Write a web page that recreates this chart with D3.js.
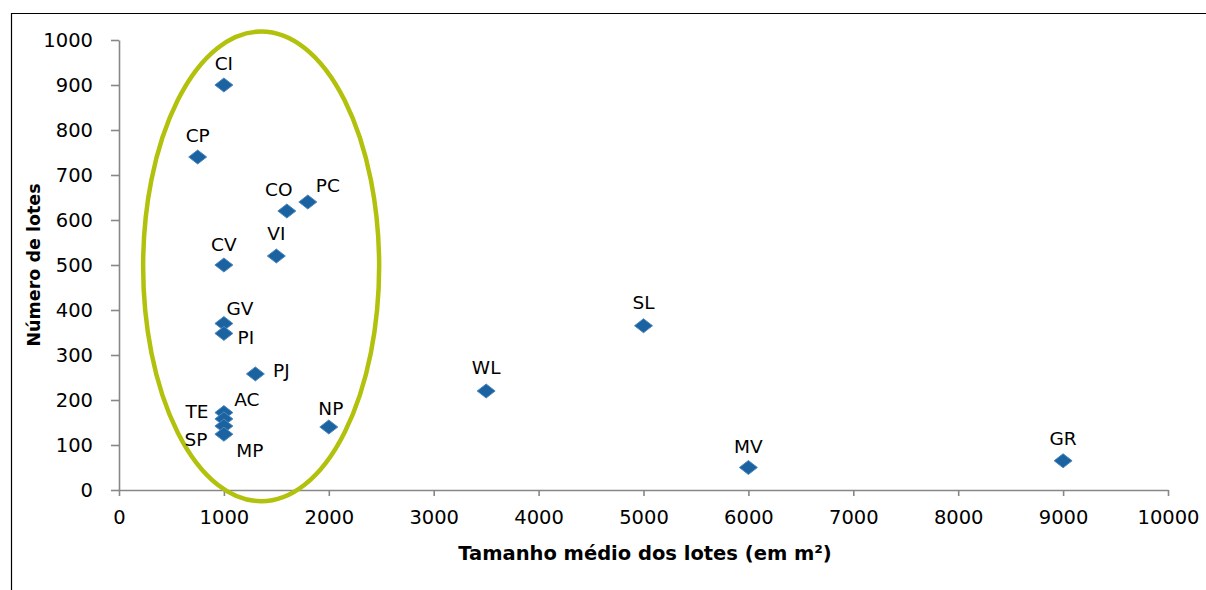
<!DOCTYPE html>
<html><head><meta charset="utf-8">
<script src="https://cdn.jsdelivr.net/npm/d3@7"></script>
<style>
html,body{margin:0;padding:0;background:#fff;}
svg{display:block;}
text{font-family:"DejaVu Sans",sans-serif;fill:#000;}
</style></head>
<body>
<svg id="chart" width="1206" height="590"></svg>
<script>
// Data
const names = ["CI","CP","CO","PC","CV","VI","GV","PI","PJ","AC","TE","SP","MP","NP","WL","SL","MV","GR"];
const sizes = [1000, 750, 1600, 1800, 1000, 1500, 1000, 1000, 1300, 1000, 1000, 1000, 1000, 2000, 3500, 5000, 6000, 9000];
const counts = [900, 740, 620, 640, 500, 520, 370, 348, 258, 172, 158, 142, 124, 140, 220, 365, 50, 65];
const xTicks = [0,1000,2000,3000,4000,5000,6000,7000,8000,9000,10000];
const yTicks = [0,100,200,300,400,500,600,700,800,900,1000];
const xTitle = "Tamanho médio dos lotes (em m²)";
const yTitle = "Número de lotes";
// highlighted cluster ellipse (data units): center and radii
const ellipseCenter = [1355, 497];
const ellipseRadii = [1125, 522];

// label placement (pixel offsets of text centre from marker: dx, dy)
const labelPos = {
  CI:[0,-22], CP:[0,-22], CO:[-8,-22], PC:[20,-17],
  CV:[0,-21], VI:[0,-23], GV:[16,-15], PI:[22,4],
  PJ:[26,-3], AC:[23,-13], TE:[-27,-7], SP:[-28,13],
  MP:[26,16], NP:[2,-19], WL:[0,-24], SL:[0,-23],
  MV:[0,-21], GR:[0,-22]
};

const svg = d3.select("#chart");
const m = {left:119, right:1168, top:40, bottom:490};
const x = d3.scaleLinear().domain([0,10000]).range([m.left, m.right]);
const y = d3.scaleLinear().domain([0,1000]).range([m.bottom, m.top]);

// frame
svg.append("path").attr("d","M11.5,590 L11.5,13.5 L1206,13.5").attr("fill","none").attr("stroke","#000").attr("stroke-width",1.2);

const axisColor = "#878787";
const xa = svg.append("g").attr("transform",`translate(0,${m.bottom})`)
  .call(d3.axisBottom(x).tickValues(xTicks).tickSize(6).tickSizeOuter(0).tickPadding(14).tickFormat(d3.format("d")));
const ya = svg.append("g").attr("transform",`translate(${m.left},0)`)
  .call(d3.axisLeft(y).tickValues(yTicks).tickSize(8).tickSizeOuter(0).tickPadding(18).tickFormat(d3.format("d")));
[xa,ya].forEach(g=>{
  g.select(".domain").attr("stroke",axisColor).attr("stroke-width",1.6);
  g.selectAll(".tick line").attr("stroke",axisColor).attr("stroke-width",1.6);
  g.selectAll(".tick text").attr("font-family","DejaVu Sans").attr("font-size",19.5).attr("fill","#000");
});

// titles
svg.append("text").attr("x",(458+832)/2).attr("y",560).attr("text-anchor","middle")
  .attr("font-size",19.5).attr("font-weight","bold").text(xTitle);
svg.append("text").attr("transform","translate(40,265) rotate(-90)").attr("text-anchor","middle")
  .attr("font-size",17.5).attr("font-weight","bold").text(yTitle);

// ellipse
svg.append("ellipse")
  .attr("cx", x(ellipseCenter[0])).attr("cy", y(ellipseCenter[1]))
  .attr("rx", x(ellipseRadii[0]) - x(0)).attr("ry", y(0) - y(ellipseRadii[1]))
  .attr("fill","none").attr("stroke","#b1c10c").attr("stroke-width",4.5);

// points
const data = names.map((n,i)=>({n, x:sizes[i], y:counts[i]}));
const dw = 9, dh = 7;
svg.append("g").selectAll("path").data(data).join("path")
  .attr("transform", d=>`translate(${x(d.x)},${y(d.y)})`)
  .attr("d", `M0,${-dh} L${dw},0 L0,${dh} L${-dw},0 Z`)
  .attr("fill","#1b63a0").attr("stroke","#4f87bf").attr("stroke-width",1);

svg.append("g").selectAll("text").data(data).join("text")
  .attr("x", d=>x(d.x)+labelPos[d.n][0])
  .attr("y", d=>y(d.y)+labelPos[d.n][1])
  .attr("text-anchor", "middle")
  .attr("dominant-baseline", "central")
  .attr("font-size",18.5)
  .text(d=>d.n);
</script>
</body></html>
